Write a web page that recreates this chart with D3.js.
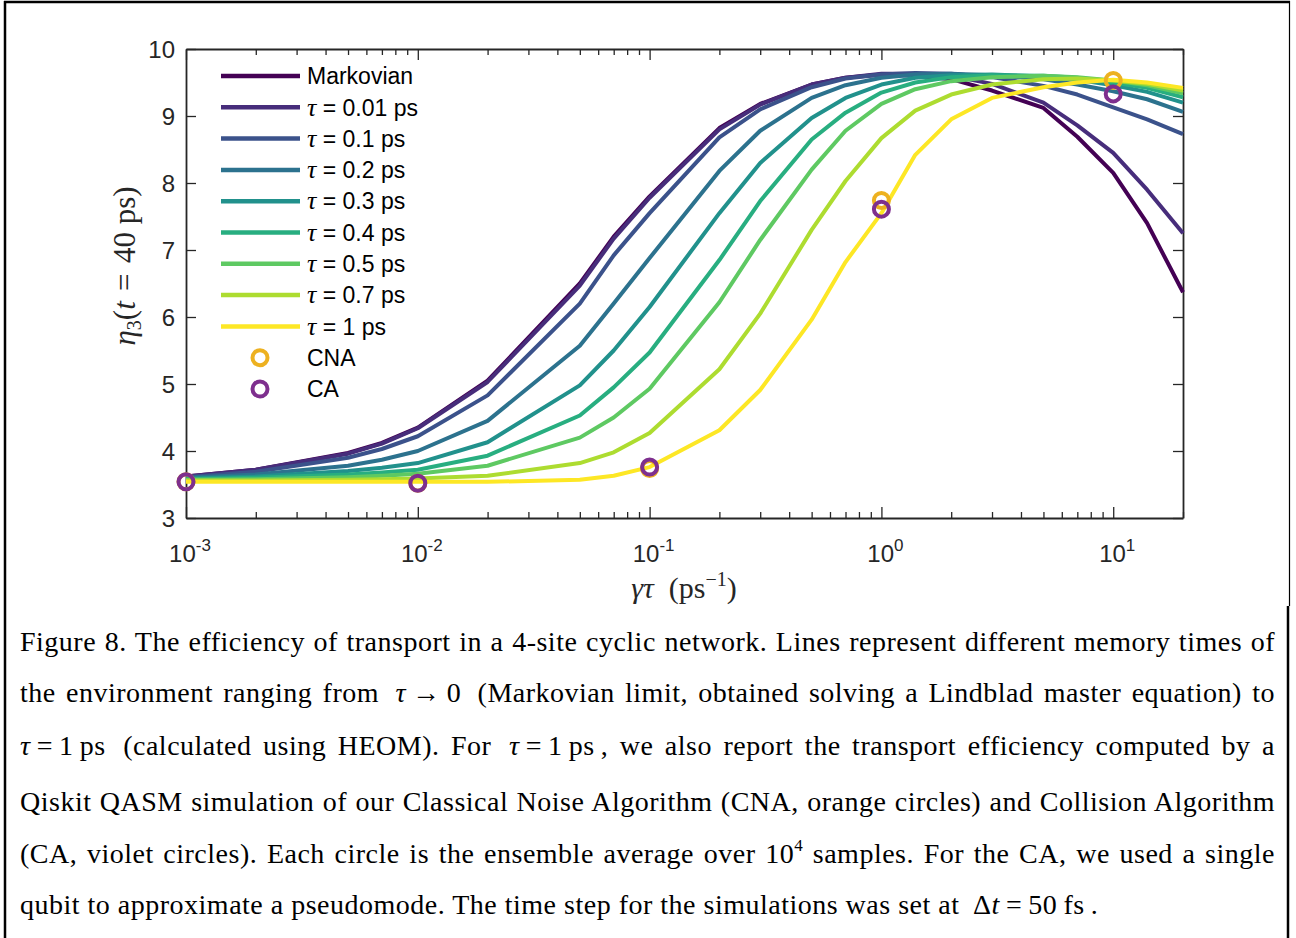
<!DOCTYPE html>
<html>
<head>
<meta charset="utf-8">
<script src="https://cdn.jsdelivr.net/npm/d3@7"></script>
<style>
	body { margin: 0; background: #fff; }
	svg { display: block; }
</style>
</head>
<body>
<svg id="fig" width="1296" height="938"></svg>
<script>
// gamma*tau sample points (ps^-1)
var gammaTau = [0.001, 0.002, 0.005, 0.007, 0.01, 0.02, 0.05, 0.07, 0.1, 0.2, 0.3, 0.5, 0.7, 1, 1.4, 2, 3, 5, 7, 10, 14, 20];

var seriesNames = ["Markovian", "0.01", "0.1", "0.2", "0.3", "0.4", "0.5", "0.7", "1"];

var etaMarkov = [3.62, 3.72, 3.97, 4.12, 4.35, 5.05, 6.50, 7.20, 7.80, 8.82, 9.18, 9.47, 9.57, 9.62, 9.60, 9.55, 9.38, 9.12, 8.69, 8.15, 7.40, 6.37];
var eta001 = [3.62, 3.72, 3.96, 4.11, 4.34, 5.03, 6.47, 7.17, 7.78, 8.80, 9.17, 9.47, 9.57, 9.63, 9.63, 9.60, 9.48, 9.20, 8.86, 8.45, 7.90, 7.25];
var eta01 = [3.61, 3.69, 3.90, 4.03, 4.22, 4.83, 6.20, 6.92, 7.55, 8.68, 9.10, 9.43, 9.56, 9.62, 9.64, 9.63, 9.58, 9.45, 9.32, 9.13, 8.95, 8.73];
var eta02 = [3.60, 3.65, 3.78, 3.87, 4.00, 4.45, 5.57, 6.20, 6.88, 8.18, 8.78, 9.27, 9.46, 9.57, 9.62, 9.63, 9.61, 9.55, 9.47, 9.37, 9.25, 9.06];
var eta03 = [3.59, 3.62, 3.70, 3.75, 3.82, 4.13, 4.98, 5.50, 6.15, 7.55, 8.30, 8.97, 9.27, 9.47, 9.57, 9.61, 9.62, 9.59, 9.54, 9.46, 9.36, 9.20];
var eta04 = [3.58, 3.60, 3.65, 3.68, 3.72, 3.93, 4.53, 4.95, 5.47, 6.85, 7.73, 8.65, 9.05, 9.35, 9.50, 9.58, 9.61, 9.60, 9.57, 9.50, 9.42, 9.28];
var eta05 = [3.57, 3.58, 3.61, 3.63, 3.66, 3.78, 4.20, 4.50, 4.93, 6.22, 7.15, 8.20, 8.78, 9.18, 9.40, 9.52, 9.58, 9.60, 9.58, 9.53, 9.46, 9.34];
var eta07 = [3.56, 3.56, 3.57, 3.58, 3.59, 3.63, 3.82, 3.98, 4.27, 5.22, 6.05, 7.30, 8.03, 8.67, 9.08, 9.32, 9.47, 9.55, 9.56, 9.53, 9.48, 9.38];
var eta1 = [3.54, 3.54, 3.54, 3.54, 3.54, 3.54, 3.57, 3.63, 3.76, 4.31, 4.91, 5.96, 6.82, 7.55, 8.42, 8.95, 9.27, 9.43, 9.50, 9.54, 9.50, 9.42];

// quantum simulations for tau = 1 ps
var simGammaTau = [0.001, 0.01, 0.1, 1, 10];
var etaCNA = [3.54, 3.52, 3.74, 7.74, 9.53];
var etaCA = [3.54, 3.52, 3.76, 7.61, 9.33];

var yTicks = [3, 4, 5, 6, 7, 8, 9, 10];
var xMajor = [1e-3, 1e-2, 1e-1, 1e0, 1e1];
var xExponents = ["-3", "-2", "-1", "0", "1"];

var etaAll = [etaMarkov, eta001, eta01, eta02, eta03, eta04, eta05, eta07, eta1];

var svg = d3.select("#fig");
var sans = "'Liberation Sans', Arial, Helvetica, sans-serif";
var serif = "'Liberation Serif', 'Times New Roman', serif";
var axisColor = "#262626";

var plot = { left: 186, right: 1183, top: 49, bottom: 518 };

var x = d3.scaleLog().domain([1e-3, 20]).range([plot.left, plot.right]);
var y = d3.scaleLinear().domain([3, 10]).range([plot.bottom, plot.top]);

// outer frame of the figure
var frame = svg.append("g").attr("stroke", "#000").attr("fill", "none");
frame.append("line").attr("x1", 4).attr("x2", 1290).attr("y1", 2).attr("y2", 2).attr("stroke-width", 2.5);
frame.append("line").attr("x1", 5).attr("x2", 5).attr("y1", 1).attr("y2", 938).attr("stroke-width", 2.5);
frame.append("line").attr("x1", 1289.5).attr("x2", 1289.5).attr("y1", 1).attr("y2", 606).attr("stroke-width", 1.2);
frame.append("line").attr("x1", 1288).attr("x2", 1288).attr("y1", 606).attr("y2", 938).attr("stroke-width", 2.5);

// minor log ticks
var xMinor = [];
for (var d = -3; d <= 1; d++) {
	for (var m = 2; m <= 9; m++) {
		var v = m * Math.pow(10, d);
		if (v <= 20) xMinor.push(v);
	}
}

function styleAxis(g) {
	g.selectAll("path").attr("stroke", axisColor).attr("stroke-width", 1.8);
	g.selectAll("line").attr("stroke", axisColor).attr("stroke-width", 1.3);
	g.selectAll("text").remove();
}

var axes = svg.append("g").attr("class", "axes");

// bottom & top: major then minor ticks, pointing inward
[[plot.bottom, d3.axisBottom], [plot.top, d3.axisTop]].forEach(function(a) {
	axes.append("g")
		.attr("transform", "translate(0," + a[0] + ")")
		.call(a[1](x).tickValues(xMajor).tickSizeInner(-11).tickSizeOuter(0).tickFormat(""))
		.call(styleAxis);
	axes.append("g")
		.attr("transform", "translate(0," + a[0] + ")")
		.call(a[1](x).tickValues(xMinor).tickSizeInner(-6).tickSizeOuter(0).tickFormat(""))
		.call(function(g) { styleAxis(g); g.select("path").remove(); });
});

axes.append("g")
	.attr("transform", "translate(" + plot.left + ",0)")
	.call(d3.axisLeft(y).tickValues(yTicks).tickSizeInner(-10).tickSizeOuter(0).tickFormat(""))
	.call(styleAxis);
axes.append("g")
	.attr("transform", "translate(" + plot.right + ",0)")
	.call(d3.axisRight(y).tickValues(yTicks).tickSizeInner(-10).tickSizeOuter(0).tickFormat(""))
	.call(styleAxis);

// tick labels
var xl = svg.append("g")
	.attr("font-family", sans)
	.attr("font-size", 24)
	.attr("fill", axisColor)
	.attr("text-anchor", "middle");
xMajor.forEach(function(v, i) {
	var t = xl.append("text").attr("x", x(v) + 4).attr("y", 562);
	t.append("tspan").text("10");
	t.append("tspan").attr("dy", -11).attr("font-size", 17).text(xExponents[i]);
});

svg.append("g")
	.attr("font-family", sans)
	.attr("font-size", 24)
	.attr("fill", axisColor)
	.attr("text-anchor", "end")
	.selectAll("text")
	.data(yTicks)
	.enter().append("text")
	.attr("x", plot.left - 11)
	.attr("y", function(d) { return y(d); })
	.attr("dy", "0.36em")
	.text(function(d) { return d; });

// axis titles (LaTeX style)
var ylab = svg.append("text")
	.attr("transform", "translate(135,266) rotate(-90)")
	.attr("text-anchor", "middle")
	.attr("font-family", serif)
	.attr("font-size", 31)
	.attr("fill", axisColor);
ylab.append("tspan").attr("font-style", "italic").text("η");
ylab.append("tspan").attr("font-size", 20).attr("dy", 6).text("3");
ylab.append("tspan").attr("dy", -6).text("(");
ylab.append("tspan").attr("font-style", "italic").text("t");
ylab.append("tspan").text("\u2004=\u200440\u2005ps)");

var xlab = svg.append("text")
	.attr("x", 684)
	.attr("y", 598)
	.attr("text-anchor", "middle")
	.attr("font-family", serif)
	.attr("font-size", 30)
	.attr("fill", axisColor);
xlab.append("tspan").attr("font-style", "italic").text("γτ");
xlab.append("tspan").text("\u2002(ps");
xlab.append("tspan").attr("font-size", 20).attr("dy", -12).text("−1");
xlab.append("tspan").attr("dy", 12).text(")");

// curves
var color = function(i) { return d3.interpolateViridis(i / (seriesNames.length - 1)); };
var line = d3.line()
	.x(function(d) { return x(d[0]); })
	.y(function(d) { return y(d[1]); });

var curves = svg.append("g").attr("fill", "none").attr("stroke-width", 4).attr("stroke-linejoin", "round");
etaAll.forEach(function(vals, i) {
	curves.append("path")
		.datum(d3.zip(gammaTau, vals))
		.attr("stroke", color(i))
		.attr("d", line);
});

// simulation markers
var cnaColor = "#EDB120", caColor = "#7E2F8E";
function markers(vals, col) {
	svg.append("g").selectAll("circle")
		.data(d3.zip(simGammaTau, vals))
		.enter().append("circle")
		.attr("cx", function(d) { return x(d[0]); })
		.attr("cy", function(d) { return y(d[1]); })
		.attr("r", 7.5)
		.attr("fill", "none")
		.attr("stroke", col)
		.attr("stroke-width", 4);
}
markers(etaCNA, cnaColor);
markers(etaCA, caColor);

// legend
var leg = svg.append("g").attr("font-family", sans).attr("font-size", 23).attr("fill", "#000");
var rowY = function(k) { return 76 + k * 31.3; };
seriesNames.forEach(function(name, i) {
	leg.append("line")
		.attr("x1", 221).attr("x2", 300)
		.attr("y1", rowY(i)).attr("y2", rowY(i))
		.attr("stroke", color(i)).attr("stroke-width", 4.5);
	var t = leg.append("text").attr("x", 307).attr("y", rowY(i)).attr("dy", "0.36em");
	if (i == 0) {
		t.text(name);
	} else {
		t.append("tspan").attr("font-family", serif).attr("font-style", "italic").attr("font-size", 26).text("τ");
		t.append("tspan").text(" = " + name + " ps");
	}
});
[["CNA", cnaColor], ["CA", caColor]].forEach(function(m, k) {
	var yy = rowY(9 + k);
	leg.append("circle").attr("cx", 260).attr("cy", yy).attr("r", 7.5)
		.attr("fill", "none").attr("stroke", m[1]).attr("stroke-width", 4);
	leg.append("text").attr("x", 307).attr("y", yy).attr("dy", "0.36em").text(m[0]);
});

// caption, justified between left and right margins
var capLines = [
	[["Figure 8. The efficiency of transport in a 4-site cyclic network. Lines represent different memory times of"]],
	[["the environment ranging from \u2009"], ["τ", "i"], ["\u2009→\u20090\u2009 (Markovian limit, obtained solving a Lindblad master equation) to"]],
	[["τ", "i"], ["\u2009=\u20091\u2009ps\u2009 (calculated using HEOM). For \u2009"], ["τ", "i"], ["\u2009=\u20091\u2009ps\u2009, we also report the transport efficiency computed by a"]],
	[["Qiskit QASM simulation of our Classical Noise Algorithm (CNA, orange circles) and Collision Algorithm"]],
	[["(CA, violet circles). Each circle is the ensemble average over 10"], ["4", "sup"], [" samples. For the CA, we used a single"]],
	[["qubit to approximate a pseudomode. The time step for the simulations was set at \u2009Δ"], ["t", "i"], ["\u2009=\u200950\u2009fs\u2009."]]
];
var capBase = [651, 702, 755, 811, 863, 914];
var capLeft = 20, capRight = 1275;

var cap = svg.append("g")
	.attr("font-family", serif)
	.attr("font-size", 28)
	.attr("letter-spacing", 0.5)
	.attr("fill", "#000");
capLines.forEach(function(segs, li) {
	var t = cap.append("text").attr("x", capLeft).attr("y", capBase[li]).attr("xml:space", "preserve");
	var spaces = 0;
	segs.forEach(function(s) {
		var ts = t.append("tspan").text(s[0]);
		if (s[1] == "i") ts.attr("font-style", "italic");
		if (s[1] == "sup") ts.attr("font-size", 17).attr("dy", -12);
		else if (li == 4 && s[0].indexOf(" samples") == 0) ts.attr("dy", 12);
		spaces += (s[0].match(/ /g) || []).length;
	});
	if (li < capLines.length - 1) {
		var w = t.node().getComputedTextLength();
		t.attr("word-spacing", Math.max(0, (capRight - capLeft - w) / spaces));
	}
});
</script>
</body>
</html>
